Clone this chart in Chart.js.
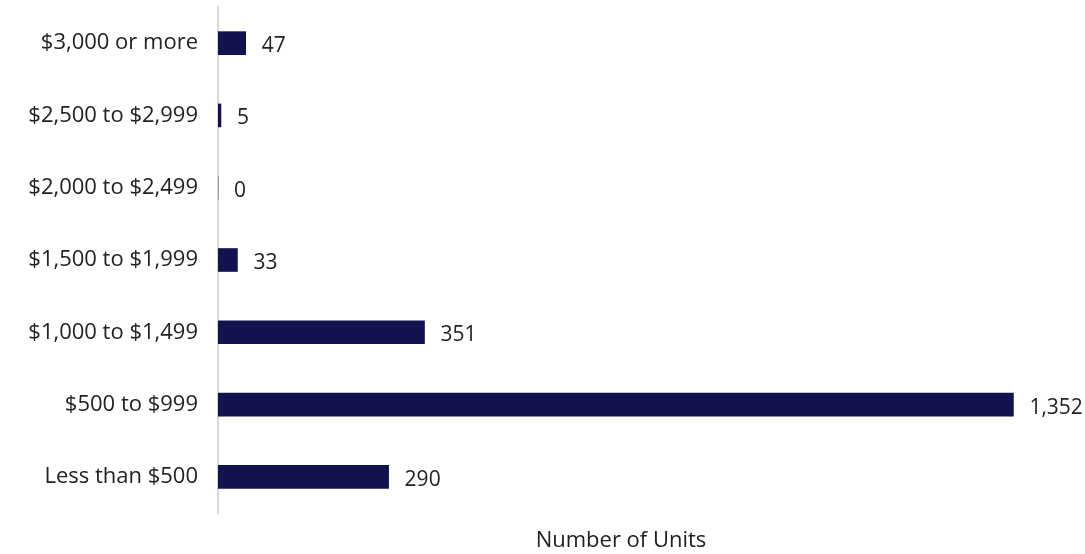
<!DOCTYPE html>
<html>
<head>
<meta charset="utf-8">
<script src="https://cdn.jsdelivr.net/npm/chart.js@4/dist/chart.umd.min.js"></script>
<style>
  html, body { margin: 0; padding: 0; background: #fff; }
  #wrap { width: 1085px; height: 554px; position: relative; }
</style>
</head>
<body>
<div id="wrap"><canvas id="c"></canvas></div>
<script>
const categories = ["$3,000 or more", "$2,500 to $2,999", "$2,000 to $2,499", "$1,500 to $1,999", "$1,000 to $1,499", "$500 to $999", "Less than $500"];
const units = [47, 5, 0, 33, 351, 1352, 290];
const axisTitle = "Number of Units";

const FONT = "'Open Sans', sans-serif";
const TEXT = "#222222";

const valueLabels = {
  id: 'valueLabels',
  afterDatasetsDraw(chart) {
    const ctx = chart.ctx;
    const meta = chart.getDatasetMeta(0);
    ctx.save();
    ctx.font = "21px " + FONT;
    ctx.fillStyle = TEXT;
    ctx.textAlign = 'left';
    ctx.textBaseline = 'middle';
    meta.data.forEach((bar, i) => {
      const v = units[i];
      ctx.fillText(v.toLocaleString('en-US'), bar.x + 16, bar.y + 3);
    });
    ctx.restore();
  }
};

new Chart(document.getElementById('c'), {
  type: 'bar',
  data: {
    labels: categories,
    datasets: [{
      data: units,
      backgroundColor: '#13124F',
      borderWidth: 0,
      barThickness: 23
    }]
  },
  options: {
    indexAxis: 'y',
    responsive: true,
    maintainAspectRatio: false,
    animation: false,
    layout: { padding: { top: 7, right: 61, bottom: 0, left: 0 } },
    plugins: { legend: { display: false }, tooltip: { enabled: false } },
    scales: {
      y: {
        grid: { display: false, drawTicks: false },
        border: { display: true, color: '#d9d9d9', width: 2 },
        ticks: { color: TEXT, font: { family: FONT, size: 22 }, padding: 20 },
        afterFit(scale) { scale.width = 218; scale.paddingTop = 0; scale.paddingBottom = 0; }
      },
      x: {
        min: 0,
        max: 1370,
        grid: { display: false, drawTicks: false },
        border: { display: false },
        ticks: { display: false },
        title: { display: true, text: axisTitle, color: TEXT, font: { family: FONT, size: 22 }, padding: { top: 0, bottom: 0 } },
        afterFit(scale) { scale.height = 41; scale.paddingLeft = 0; scale.paddingRight = 0; }
      }
    }
  },
  plugins: [valueLabels]
});
</script>
</body>
</html>
